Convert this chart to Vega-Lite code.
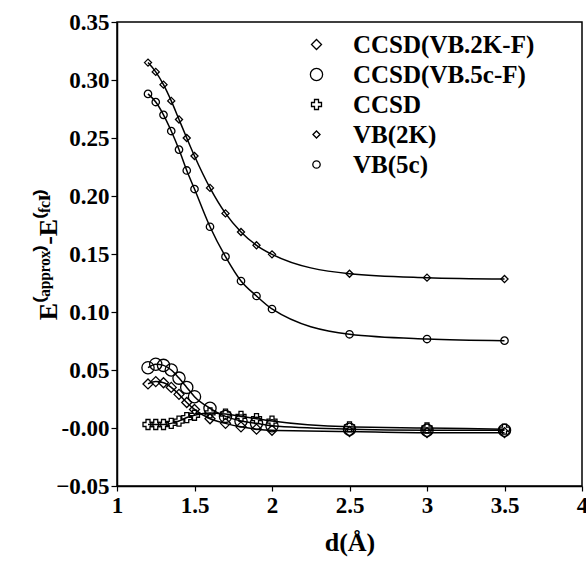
{
  "$schema": "https://vega.github.io/schema/vega-lite/v6.json",
  "width": 465,
  "height": 464,
  "autosize": {"type": "none"},
  "padding": {"left": 117, "top": 22, "right": 4, "bottom": 77},
  "background": "white",
  "config": {
    "view": {"stroke": "black", "strokeWidth": 1.5},
    "font": "Liberation Serif",
    "text": {"font": "Liberation Serif"},
    "axis": {
      "labelFont": "Liberation Serif", "labelFontWeight": "bold", "labelFontSize": 23, "labelColor": "black",
      "titleFont": "Liberation Serif", "titleFontWeight": "bold", "titleFontSize": 26, "titleColor": "black",
      "domainColor": "black", "domainWidth": 1.5, "tickColor": "black", "tickWidth": 1.2, "tickSize": 6,
      "grid": false
    },
    "legend": {
      "labelFont": "Liberation Serif", "labelFontWeight": "bold", "labelFontSize": 25, "labelColor": "black", "labelLimit": 400
    }
  },
  "data": {
    "values": [
      {"d": 1.2, "v": 0.038, "s": "CCSD(VB.2K-F)"},
      {"d": 1.25, "v": 0.040, "s": "CCSD(VB.2K-F)"},
      {"d": 1.3, "v": 0.039, "s": "CCSD(VB.2K-F)"},
      {"d": 1.35, "v": 0.035, "s": "CCSD(VB.2K-F)"},
      {"d": 1.4, "v": 0.029, "s": "CCSD(VB.2K-F)"},
      {"d": 1.45, "v": 0.022, "s": "CCSD(VB.2K-F)"},
      {"d": 1.5, "v": 0.016, "s": "CCSD(VB.2K-F)"},
      {"d": 1.6, "v": 0.008, "s": "CCSD(VB.2K-F)"},
      {"d": 1.7, "v": 0.004, "s": "CCSD(VB.2K-F)"},
      {"d": 1.8, "v": 0.001, "s": "CCSD(VB.2K-F)"},
      {"d": 1.9, "v": -0.001, "s": "CCSD(VB.2K-F)"},
      {"d": 2.0, "v": -0.002, "s": "CCSD(VB.2K-F)"},
      {"d": 2.5, "v": -0.003, "s": "CCSD(VB.2K-F)"},
      {"d": 3.0, "v": -0.004, "s": "CCSD(VB.2K-F)"},
      {"d": 3.5, "v": -0.004, "s": "CCSD(VB.2K-F)"},
      {"d": 1.2, "v": 0.052, "s": "CCSD(VB.5c-F)"},
      {"d": 1.25, "v": 0.055, "s": "CCSD(VB.5c-F)"},
      {"d": 1.3, "v": 0.054, "s": "CCSD(VB.5c-F)"},
      {"d": 1.35, "v": 0.050, "s": "CCSD(VB.5c-F)"},
      {"d": 1.4, "v": 0.043, "s": "CCSD(VB.5c-F)"},
      {"d": 1.45, "v": 0.035, "s": "CCSD(VB.5c-F)"},
      {"d": 1.5, "v": 0.027, "s": "CCSD(VB.5c-F)"},
      {"d": 1.6, "v": 0.017, "s": "CCSD(VB.5c-F)"},
      {"d": 1.7, "v": 0.010, "s": "CCSD(VB.5c-F)"},
      {"d": 1.8, "v": 0.006, "s": "CCSD(VB.5c-F)"},
      {"d": 1.9, "v": 0.004, "s": "CCSD(VB.5c-F)"},
      {"d": 2.0, "v": 0.002, "s": "CCSD(VB.5c-F)"},
      {"d": 2.5, "v": -0.001, "s": "CCSD(VB.5c-F)"},
      {"d": 3.0, "v": -0.002, "s": "CCSD(VB.5c-F)"},
      {"d": 3.5, "v": -0.002, "s": "CCSD(VB.5c-F)"},
      {"d": 1.2, "v": 0.003, "s": "CCSD"},
      {"d": 1.25, "v": 0.003, "s": "CCSD"},
      {"d": 1.3, "v": 0.003, "s": "CCSD"},
      {"d": 1.35, "v": 0.004, "s": "CCSD"},
      {"d": 1.4, "v": 0.006, "s": "CCSD"},
      {"d": 1.45, "v": 0.009, "s": "CCSD"},
      {"d": 1.5, "v": 0.011, "s": "CCSD"},
      {"d": 1.6, "v": 0.013, "s": "CCSD"},
      {"d": 1.7, "v": 0.012, "s": "CCSD"},
      {"d": 1.8, "v": 0.010, "s": "CCSD"},
      {"d": 1.9, "v": 0.008, "s": "CCSD"},
      {"d": 2.0, "v": 0.006, "s": "CCSD"},
      {"d": 2.5, "v": 0.001, "s": "CCSD"},
      {"d": 3.0, "v": 0.0, "s": "CCSD"},
      {"d": 3.5, "v": -0.001, "s": "CCSD"},
      {"d": 1.2, "v": 0.315, "s": "VB(2K)"},
      {"d": 1.25, "v": 0.307, "s": "VB(2K)"},
      {"d": 1.3, "v": 0.296, "s": "VB(2K)"},
      {"d": 1.35, "v": 0.282, "s": "VB(2K)"},
      {"d": 1.4, "v": 0.266, "s": "VB(2K)"},
      {"d": 1.45, "v": 0.250, "s": "VB(2K)"},
      {"d": 1.5, "v": 0.2345, "s": "VB(2K)"},
      {"d": 1.6, "v": 0.207, "s": "VB(2K)"},
      {"d": 1.7, "v": 0.185, "s": "VB(2K)"},
      {"d": 1.8, "v": 0.169, "s": "VB(2K)"},
      {"d": 1.9, "v": 0.1575, "s": "VB(2K)"},
      {"d": 2.0, "v": 0.1497, "s": "VB(2K)"},
      {"d": 2.5, "v": 0.133, "s": "VB(2K)"},
      {"d": 3.0, "v": 0.1296, "s": "VB(2K)"},
      {"d": 3.5, "v": 0.1284, "s": "VB(2K)"},
      {"d": 1.2, "v": 0.288, "s": "VB(5c)"},
      {"d": 1.25, "v": 0.281, "s": "VB(5c)"},
      {"d": 1.3, "v": 0.270, "s": "VB(5c)"},
      {"d": 1.35, "v": 0.256, "s": "VB(5c)"},
      {"d": 1.4, "v": 0.240, "s": "VB(5c)"},
      {"d": 1.45, "v": 0.222, "s": "VB(5c)"},
      {"d": 1.5, "v": 0.206, "s": "VB(5c)"},
      {"d": 1.6, "v": 0.1735, "s": "VB(5c)"},
      {"d": 1.7, "v": 0.1477, "s": "VB(5c)"},
      {"d": 1.8, "v": 0.1267, "s": "VB(5c)"},
      {"d": 1.9, "v": 0.1138, "s": "VB(5c)"},
      {"d": 2.0, "v": 0.1026, "s": "VB(5c)"},
      {"d": 2.5, "v": 0.0808, "s": "VB(5c)"},
      {"d": 3.0, "v": 0.0767, "s": "VB(5c)"},
      {"d": 3.5, "v": 0.0753, "s": "VB(5c)"}
    ]
  },
  "encoding": {
    "x": {
      "field": "d", "type": "quantitative",
      "scale": {"domain": [1, 4], "nice": false, "zero": false},
      "axis": {"values": [1, 1.5, 2, 2.5, 3, 3.5, 4], "format": "~g", "title": "d(Å)", "titlePadding": 12, "labelPadding": 3, "tickSize": 5, "labelFlush": false}
    },
    "y": {
      "field": "v", "type": "quantitative",
      "scale": {"domain": [-0.05, 0.35], "nice": false, "zero": false},
      "axis": {
        "values": [-0.05, 0, 0.05, 0.1, 0.15, 0.2, 0.25, 0.3, 0.35],
        "labelExpr": "abs(datum.value) < 1e-9 ? '-0.00' : format(datum.value, '.2f')",
        "title": "E⁽ᵃᵖᵖʳᵒˣ⁾-E⁽ᶠᶜᴵ⁾", "titlePadding": -6, "labelPadding": 2, "labelFlush": false
      }
    }
  },
  "layer": [
    {
      "mark": {"type": "line", "interpolate": "monotone", "color": "black", "strokeWidth": 1.5},
      "encoding": {"detail": {"field": "s", "type": "nominal"}}
    },
    {
      "mark": {"type": "point", "filled": false, "color": "black", "strokeWidth": 1.3, "opacity": 1},
      "encoding": {
        "shape": {
          "field": "s", "type": "nominal",
          "scale": {"domain": ["CCSD(VB.2K-F)", "CCSD(VB.5c-F)", "CCSD", "VB(2K)", "VB(5c)"], "range": ["diamond", "circle", "cross", "diamond", "circle"]},
          "legend": {"title": null, "orient": "none", "legendX": 187, "legendY": 10, "rowPadding": 4, "labelOffset": 24, "symbolStrokeColor": "black", "symbolStrokeWidth": 1.3}
        },
        "size": {
          "field": "s", "type": "nominal",
          "scale": {"type": "ordinal", "domain": ["CCSD(VB.2K-F)", "CCSD(VB.5c-F)", "CCSD", "VB(2K)", "VB(5c)"], "range": [100, 150, 100, 50, 55]},
          "legend": {"title": null, "orient": "none", "legendX": 187, "legendY": 10, "rowPadding": 4, "labelOffset": 24, "symbolStrokeColor": "black", "symbolStrokeWidth": 1.3}
        }
      }
    }
  ]
}
